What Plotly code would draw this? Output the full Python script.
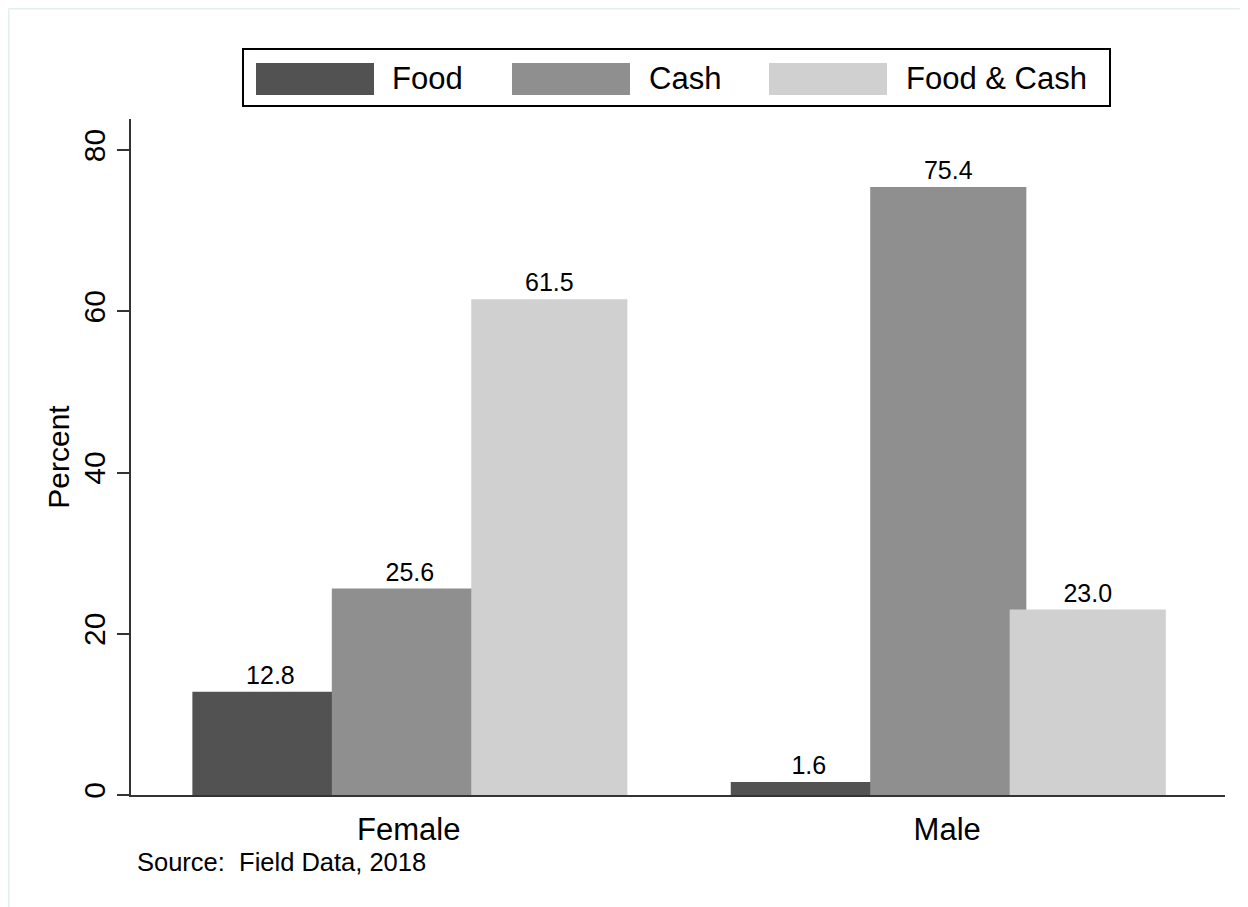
import plotly.graph_objects as go

# ---- data ----
categories = ["Female", "Male"]
series_names = ["Food", "Cash", "Food & Cash"]
food = [12.8, 1.6]
cash = [25.6, 75.4]
food_cash = [61.5, 23.0]
y_ticks = [0, 20, 40, 60, 80]
source_note = "Source:  Field Data, 2018"

# ---- styles ----
colors = ["#525252", "#8f8f8f", "#d0d0d0"]
FONT = "Liberation Sans, Arial, sans-serif"
W, H = 1248, 907
OFF = 8  # page body margin
L, R, T, B = 123, 31, 111, 120
PW, PH = W - L - R, H - T - B

def px(xs):
    return (xs - OFF - L) / PW

def py(ys):
    return (H - B - (ys - OFF)) / PH

bar_width = 0.29
offsets = [-0.402, -0.143, 0.116]

fig = go.Figure()
for name, vals, col, off in zip(series_names, [food, cash, food_cash], colors, offsets):
    fig.add_trace(go.Bar(
        x=categories, y=vals, name=name,
        marker=dict(color=col, line=dict(width=0)),
        width=bar_width, offset=off,
        texttemplate="%{y:.1f}", textposition="outside",
        textfont=dict(size=25, color="black", family=FONT),
        cliponaxis=False, showlegend=False,
    ))

fig.update_layout(
    width=W, height=H,
    margin=dict(l=L, r=R, t=T, b=B),
    paper_bgcolor="white", plot_bgcolor="white",
    barmode="overlay",
    font=dict(family=FONT, color="black"),
    xaxis=dict(
        range=[-0.516, 1.516], showgrid=False, zeroline=False,
        showline=True, linewidth=2, linecolor="#333333",
        ticks="outside", ticklen=6, tickcolor="rgba(0,0,0,0)",
        tickfont=dict(size=31, family=FONT, color="black"),
    ),
    yaxis=dict(
        range=[0, 83.85], tickvals=y_ticks, tickangle=-90,
        showgrid=False, zeroline=False,
        showline=True, linewidth=2, linecolor="#333333",
        ticks="outside", ticklen=12, tickwidth=2, tickcolor="#333333",
        tickfont=dict(size=30, family=FONT, color="black"),
        title=dict(text="Percent", font=dict(size=30, family=FONT, color="black"), standoff=0),
    ),
)

shapes = []
# outer faint frame (top and left)
shapes.append(dict(type="line", xref="paper", yref="paper", x0=px(8.5), x1=px(W + OFF), y0=py(8.5), y1=py(8.5),
                   line=dict(color="#e4f0f0", width=2)))
shapes.append(dict(type="line", xref="paper", yref="paper", x0=px(8.5), x1=px(8.5), y0=py(8.5), y1=py(H + OFF),
                   line=dict(color="#e4f0f0", width=2)))
# legend box
shapes.append(dict(type="rect", xref="paper", yref="paper", x0=px(243), x1=px(1110), y0=py(106), y1=py(49),
                   line=dict(color="black", width=2), fillcolor="white"))
swatch_x = [256, 512, 769]
text_x = [392, 649, 906]
annotations = []
for sx, tx, col, name in zip(swatch_x, text_x, colors, series_names):
    shapes.append(dict(type="rect", xref="paper", yref="paper", x0=px(sx), x1=px(sx + 118),
                       y0=py(95), y1=py(63), line=dict(width=0), fillcolor=col))
    annotations.append(dict(text=name, xref="paper", yref="paper", x=px(tx - 2), y=py(79),
                            xanchor="left", yanchor="middle", showarrow=False,
                            font=dict(size=31, family=FONT, color="black")))
annotations.append(dict(text=source_note, xref="paper", yref="paper", x=px(135), y=py(862),
                        xanchor="left", yanchor="middle", showarrow=False,
                        font=dict(size=25.5, family=FONT, color="black")))
fig.update_layout(shapes=shapes, annotations=annotations)

fig.write_html("out.html")
